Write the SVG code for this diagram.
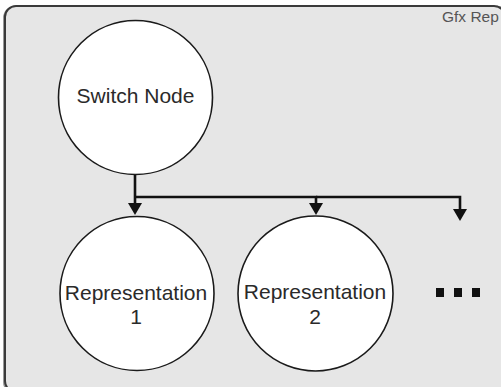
<svg xmlns="http://www.w3.org/2000/svg" width="501" height="387" viewBox="0 0 501 387">
<defs>
<style>
.frame{fill:#e6e6e6;stroke:#3a3a3a;stroke-width:2}
.node{fill:#ffffff;stroke:#1a1a1a;stroke-width:1.6}
.lbl{font-family:"Liberation Sans",Arial,sans-serif;font-size:21px;fill:#2a2a2a;text-anchor:middle}
.small{font-family:"Liberation Sans",Arial,sans-serif;font-size:15.5px;fill:#555}
.conn{fill:none;stroke:#111;stroke-width:2.6}
</style>
</defs>
<g id="frame">
<rect x="4" y="7" width="506" height="386" rx="11" ry="11" fill="none" stroke="#999" stroke-width="2"/>
<rect class="frame" x="5" y="6" width="500" height="386" rx="11" ry="11"/>
<text class="small" x="442" y="22">Gfx Rep</text>
</g>
<g id="connectors">
<path class="conn" d="M135,174 V203"/>
<path class="conn" d="M135,197 H316 V203"/>
<path class="conn" d="M316,197 H460 V209"/>
<path d="M128,203 L142,203 L135,215 Z" fill="#111"/>
<path d="M309,203 L323,203 L316,215 Z" fill="#111"/>
<path d="M453,209 L467,209 L460,221 Z" fill="#111"/>
</g>
<g id="switch-node">
<circle class="node" cx="135.5" cy="97.5" r="77"/>
<text class="lbl" x="135.5" y="103">Switch Node</text>
</g>
<g id="representation-1">
<circle class="node" cx="137" cy="293.5" r="77"/>
<text class="lbl" x="136" y="300">Representation</text>
<text class="lbl" x="136" y="324">1</text>
</g>
<g id="representation-2">
<circle class="node" cx="315.5" cy="293.5" r="77.5"/>
<text class="lbl" x="315" y="299">Representation</text>
<text class="lbl" x="315" y="324">2</text>
</g>
<g id="ellipsis" fill="#111">
<rect x="436" y="288" width="8" height="9"/>
<rect x="454" y="288" width="8" height="9"/>
<rect x="472" y="288" width="8" height="9"/>
</g>
</svg>
